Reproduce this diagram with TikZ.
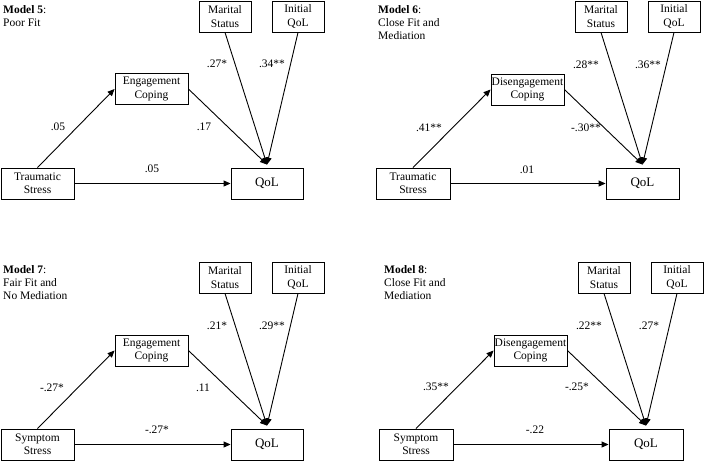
\documentclass[tikz,border=0pt]{standalone}
\usepackage{fontspec}
\setmainfont{Liberation Serif}
\usetikzlibrary{arrows.meta,calc}
\begin{document}
\begin{tikzpicture}[x=1pt,y=-1pt,
  box/.style={draw,line width=0.9pt,inner sep=0pt,align=center,minimum height=31pt,
    font=\fontsize{11.5}{13.3}\selectfont},
  small/.style={box,minimum width=52pt},
  mid/.style={box,minimum width=73pt},
  outc/.style={box,minimum width=72pt,font=\fontsize{13}{15}\selectfont},
  conn/.style={line width=0.9pt,-{Triangle[length=7pt,width=6pt]}},
  lab/.style={inner sep=0pt,font=\fontsize{11.5}{13.3}\selectfont},
  ttl/.style={inner sep=0pt,anchor=north west,align=left,font=\fontsize{11.5}{13.3}\selectfont}]
\useasboundingbox (0,0) rectangle (704,461);
% ---------- Model 5 ----------
\node[ttl] (t5) at (3,5) {\textbf{Model 5}:\\Poor Fit};
\node[small] (ms5) at (225,16.5) {Marital\\Status};
\node[small] (iq5) at (298,16.5) {Initial\\QoL};
\node[mid] (ec5) at (151.5,89) {Engagement\\Coping};
\node[box,minimum width=73pt] (ts5) at (37.5,183.5) {Traumatic\\Stress};
\node[outc] (q5) at (267,183.5) {QoL};
\coordinate (c5) at ($(q5.north)+(0,-3)$);
\draw[conn] (ts5.north) -- (ec5.west);
\draw[conn] (ec5.east) -- (c5);
\draw[conn] (ms5.south) -- (c5);
\draw[conn] (iq5.south) -- (c5);
\draw[conn] (ts5.east) -- (q5.west);
\node[lab] (l5a) at (58,127) {.05};
\node[lab] (l5b) at (204,127) {.17};
\node[lab] (l5c) at (217,64) {.27*};
\node[lab] (l5d) at (272,64) {.34**};
\node[lab] (l5e) at (152,169) {.05};
% ---------- Model 6 ----------
\node[ttl] (t6) at (378,5) {\textbf{Model 6}:\\Close Fit and\\Mediation};
\node[small] (ms6) at (601,16.5) {Marital\\Status};
\node[small] (iq6) at (674,16.5) {Initial\\QoL};
\node[mid] (dc6) at (527.5,89.5) {Disengagement\\Coping};
\node[box,minimum width=74pt] (ts6) at (413,183.5) {Traumatic\\Stress};
\node[outc,minimum width=73pt] (q6) at (642.5,183.5) {QoL};
\coordinate (c6) at ($(q6.north)+(0,-3)$);
\draw[conn] (ts6.north) -- (dc6.west);
\draw[conn] (dc6.east) -- (c6);
\draw[conn] (ms6.south) -- (c6);
\draw[conn] (iq6.south) -- (c6);
\draw[conn] (ts6.east) -- (q6.west);
\node[lab] (l6a) at (429,128) {.41**};
\node[lab] (l6b) at (586,128) {-.30**};
\node[lab] (l6c) at (586,65) {.28**};
\node[lab] (l6d) at (648,65) {.36**};
\node[lab] (l6e) at (527,170) {.01};
% ---------- Model 7 ----------
\node[ttl] (t7) at (3,265) {\textbf{Model 7}:\\Fair Fit and\\No Mediation};
\node[small] (ms7) at (225,277.5) {Marital\\Status};
\node[small] (iq7) at (298,277.5) {Initial\\QoL};
\node[mid] (ec7) at (151.5,350.5) {Engagement\\Coping};
\node[box,minimum width=73pt] (ss7) at (37.5,444.5) {Symptom\\Stress};
\node[outc] (q7) at (267,444.5) {QoL};
\coordinate (c7) at ($(q7.north)+(0,-3)$);
\draw[conn] (ss7.north) -- (ec7.west);
\draw[conn] (ec7.east) -- (c7);
\draw[conn] (ms7.south) -- (c7);
\draw[conn] (iq7.south) -- (c7);
\draw[conn] (ss7.east) -- (q7.west);
\node[lab] (l7a) at (52,388) {-.27*};
\node[lab] (l7b) at (203,388) {.11};
\node[lab] (l7c) at (217,326) {.21*};
\node[lab] (l7d) at (272,326) {.29**};
\node[lab] (l7e) at (157,430) {-.27*};
% ---------- Model 8 ----------
\node[ttl] (t8) at (384,265) {\textbf{Model 8}:\\Close Fit and\\Mediation};
\node[small] (ms8) at (604,277.5) {Marital\\Status};
\node[small] (iq8) at (677,277.5) {Initial\\QoL};
\node[mid] (dc8) at (530.5,350.5) {Disengagement\\Coping};
\node[box,minimum width=74pt] (ss8) at (416,444.5) {Symptom\\Stress};
\node[outc,minimum width=74pt] (q8) at (646,444.5) {QoL};
\coordinate (c8) at ($(q8.north)+(0,-3)$);
\draw[conn] (ss8.north) -- (dc8.west);
\draw[conn] (dc8.east) -- (c8);
\draw[conn] (ms8.south) -- (c8);
\draw[conn] (iq8.south) -- (c8);
\draw[conn] (ss8.east) -- (q8.west);
\node[lab] (l8a) at (436,387) {.35**};
\node[lab] (l8b) at (577,387) {-.25*};
\node[lab] (l8c) at (589,326) {.22**};
\node[lab] (l8d) at (649,326) {.27*};
\node[lab] (l8e) at (535,430) {-.22};
\end{tikzpicture}
\end{document}
